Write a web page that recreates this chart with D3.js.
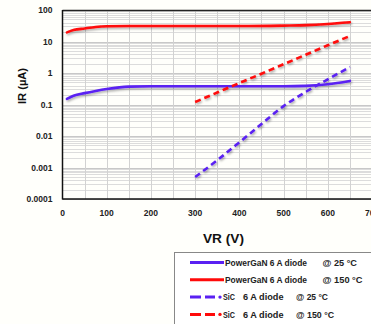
<!DOCTYPE html>
<html><head><meta charset="utf-8">
<script src="https://cdn.jsdelivr.net/npm/d3@7"></script>
<style>
html,body{margin:0;padding:0;background:#fffffb;}
svg{display:block;font-family:"Liberation Sans",Arial,sans-serif;}
</style></head><body>
<script>
const xTicks = [0,100,200,300,400,500,600,700];
const yTicks = [100,10,1,0.1,0.01,0.001,0.0001];
const yTickLabels = ["100","10","1","0.1","0.01","0.001","0.0001"];

const ganVR = [10,25,50,75,100,150,200,300,400,500,550,600,650];
const gan25 = [0.15,0.19,0.23,0.27,0.31,0.37,0.38,0.38,0.38,0.38,0.39,0.44,0.56];
const gan150 = [19.5,23,26,29,30.5,31,31,31,31,32,33,36,41];

const sicVR = [300,350,400,450,500,550,600,650];
const sic25 = [0.0005,0.0017,0.0063,0.024,0.089,0.25,0.63,1.55];
const sic150 = [0.12,0.24,0.48,0.95,1.9,3.8,7.6,15];

// legend labels, split into parts
const legendParts = [
 ["PowerGaN 6 A diode","@ 25 °C"],
 ["PowerGaN 6 A diode","@ 150 °C"],
 ["SiC","6 A diode","@ 25 °C"],
 ["SiC","6 A diode","@ 150 °C"]
];
const blue = "#5a20f2", red = "#ff0a0a";

const W=371,H=324;
const svg=d3.select("body").append("svg").attr("width",W).attr("height",H);
const defs=svg.append("defs");
const f=defs.append("filter").attr("id","sh").attr("x","-10%").attr("y","-50%").attr("width","120%").attr("height","200%");
f.append("feDropShadow").attr("dx",1).attr("dy",1.5).attr("stdDeviation",0.8).attr("flood-color","#000").attr("flood-opacity",0.35);

const x=d3.scaleLinear().domain([0,700]).range([62.5,372]);
const y=d3.scaleLog().domain([0.0001,100]).range([199,10]);

// grid
const g=svg.append("g");
const minor=[];
for(let e=-4;e<2;e++){for(let k=2;k<=9;k++)minor.push(k*Math.pow(10,e));}
g.selectAll(".mn").data(minor).enter().append("line")
 .attr("x1",x(0)).attr("x2",W).attr("y1",d=>Math.round(y(d))+0.5).attr("y2",d=>Math.round(y(d))+0.5)
 .attr("stroke","#dcdcdc").attr("stroke-width",1);
g.selectAll(".mj").data(yTicks).enter().append("line")
 .attr("x1",x(0)).attr("x2",W).attr("y1",d=>Math.round(y(d))+0.5).attr("y2",d=>Math.round(y(d))+0.5)
 .attr("stroke","#c8c8c8").attr("stroke-width",1);
g.selectAll(".vx").data(d3.range(50,701,50)).enter().append("line")
 .attr("x1",d=>Math.round(x(d))+0.5).attr("x2",d=>Math.round(x(d))+0.5).attr("y1",y(100)).attr("y2",y(0.0001))
 .attr("stroke","#d2d2d2").attr("stroke-width",1);

// axes lines
svg.append("line").attr("x1",x(0)).attr("x2",W).attr("y1",10.5).attr("y2",10.5).attr("stroke","#222").attr("stroke-width",1.5);
svg.append("line").attr("x1",x(0)).attr("x2",W).attr("y1",199).attr("y2",199).attr("stroke","#111").attr("stroke-width",1.5);
svg.append("line").attr("x1",62.5).attr("x2",62.5).attr("y1",10).attr("y2",199.5).attr("stroke","#111").attr("stroke-width",1.5);

// tick labels
svg.selectAll(".xt").data(xTicks).enter().append("text")
 .attr("x",d=>x(d)).attr("y",216).attr("text-anchor","middle")
 .attr("font-size",8.5).attr("font-weight","bold").attr("fill","#222").text(d=>d);
svg.selectAll(".yt").data(yTicks).enter().append("text")
 .attr("x",52.5).attr("y",d=>y(d)+3).attr("text-anchor","end")
 .attr("font-size",8.5).attr("font-weight","bold").attr("fill","#222").text((d,i)=>yTickLabels[i]);

svg.append("text").attr("x",203).attr("y",243)
 .attr("font-size",13).attr("font-weight","bold").attr("fill","#111")
 .attr("textLength",41).attr("lengthAdjust","spacingAndGlyphs").text("VR (V)");
svg.append("text").attr("transform","translate(26,104) rotate(-90)")
 .attr("font-size",11.5).attr("font-weight","bold").attr("fill","#111")
 .attr("textLength",36).attr("lengthAdjust","spacingAndGlyphs").text("IR (µA)");

// lines
const line=d3.line().x(d=>x(d[0])).y(d=>y(d[1])).curve(d3.curveMonotoneX);
const series=[
 {vr:ganVR,v:gan25,c:blue,dash:null},
 {vr:ganVR,v:gan150,c:red,dash:null},
 {vr:sicVR,v:sic25,c:blue,dash:"6,4"},
 {vr:sicVR,v:sic150,c:red,dash:"6,4"}
];
const pg=svg.append("g").attr("filter","url(#sh)");
series.forEach(s=>{
 pg.append("path").datum(s.vr.map((v,i)=>[v,s.v[i]])).attr("d",line)
  .attr("fill","none").attr("stroke",s.c).attr("stroke-width",2.6)
  .attr("stroke-dasharray",s.dash).attr("stroke-linecap",s.dash?"butt":"round");
});

// legend
svg.append("rect").attr("x",174.5).attr("y",252.5).attr("width",210).attr("height",80)
 .attr("fill","#fff").attr("stroke","#888").attr("stroke-width",1);
const lg=svg.append("g");
function lt(xx,yy,len,str){
 lg.append("text").attr("x",xx).attr("y",yy).attr("font-size",9.4).attr("font-weight","bold").attr("fill","#222")
  .attr("textLength",len).attr("lengthAdjust","spacingAndGlyphs").text(str);
}
legendParts.forEach((p,i)=>{
 const yy=262.5+i*17.3;
 const s=series[i];
 if(s.dash){
  lg.append("line").attr("x1",190).attr("x2",215).attr("y1",yy).attr("y2",yy)
   .attr("stroke",s.c).attr("stroke-width",3).attr("stroke-dasharray","11,4");
  lg.append("circle").attr("cx",220).attr("cy",yy).attr("r",1.7).attr("fill",s.c);
 } else {
  lg.append("line").attr("x1",190).attr("x2",224).attr("y1",yy).attr("y2",yy)
   .attr("stroke",s.c).attr("stroke-width",3);
 }
 const temp150 = p[p.length-1].indexOf("150")>=0;
 if(s.dash){
  lt(223,yy+3.3,12,p[0]);
  lt(243,yy+3.3,40.5,p[1]);
  lt(296,yy+3.3,temp150?38:32,p[2]);
 } else {
  lt(225,yy+3.3,82,p[0]);
  lt(322.5,yy+3.3,temp150?40:34.5,p[1]);
 }
});
</script>
</body></html>
